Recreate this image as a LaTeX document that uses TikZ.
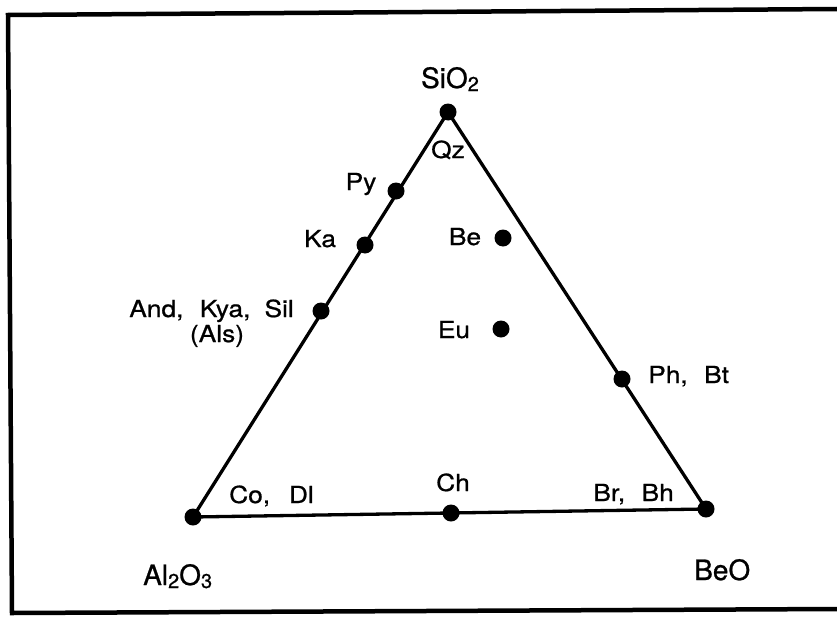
\documentclass[tikz,border=0pt]{standalone}
\usepackage{fontspec}
\setmainfont[FakeBold=0.8]{TeX Gyre Heros}
\newfontfamily\labfont[FakeStretch=1.12,FakeBold=0.8]{TeX Gyre Heros}
\newcommand{\lowsub}[1]{\raisebox{-3pt}{\fontsize{20}{20}\selectfont #1}}
\begin{document}
\begin{tikzpicture}[x=1pt,y=-1pt,
  dot/.style={circle,fill=black,inner sep=0pt,minimum size=17pt},
  big/.style={font=\fontsize{28}{28}\selectfont, inner sep=0pt},
  lab/.style={font=\labfont\fontsize{23.5}{23.5}\selectfont, inner sep=0pt},
  edgeline/.style={line width=3.3pt},
  frameline/.style={line width=4.5pt}]
\useasboundingbox (0,0) rectangle (837,618);
\fill[white] (0,0) rectangle (837,618);
% frame
\draw[frameline] (837,9) -- (8,15) -- (12,613) -- (837,609);
% vertices and points
\coordinate (S) at (448,112);
\coordinate (A) at (193,517);
\coordinate (B) at (706,509);
\coordinate (Py) at (396,191);
\coordinate (Ka) at (365,245);
\coordinate (Als) at (321,311);
\coordinate (Be) at (503,238);
\coordinate (Eu) at (501,329);
\coordinate (Ph) at (622,379);
\coordinate (Ch) at (451,513);
% triangle
\draw[edgeline] (S) -- (A) -- (B) -- cycle;
% dots
\node[dot] (dS) at (S) {};
\node[dot] (dA) at (A) {};
\node[dot] (dB) at (B) {};
\node[dot] (dPy) at (Py) {};
\node[dot] (dKa) at (Ka) {};
\node[dot] (dAls) at (Als) {};
\node[dot] (dBe) at (Be) {};
\node[dot] (dEu) at (Eu) {};
\node[dot] (dPh) at (Ph) {};
\node[dot] (dCh) at (Ch) {};
% end-member labels
\node[big, anchor=base] (tS) at (450,88) {SiO\lowsub{2}};
\node[big, anchor=base west] (tA) at (143,585) {Al\lowsub{2}O\lowsub{3}};
\node[big, anchor=base west] (tB) at (694,580) {BeO};
% mineral labels
\node[lab, anchor=base] (tQz) at (448,158) {Qz};
\node[lab, anchor=base] (tPy) at (361,190) {Py};
\node[lab, anchor=base] (tKa) at (320,247) {Ka};
\node[lab, anchor=base east] (tAnd) at (294,317) {And,\hspace{0.7em}Kya,\hspace{0.6em}Sil};
\node[lab, anchor=base] (tAls) at (217,342) {(Als)};
\node[lab, anchor=base] (tBe) at (465,245) {Be};
\node[lab, anchor=base] (tEu) at (454,338) {Eu};
\node[lab, anchor=base west] (tPh) at (648,383) {Ph,\hspace{0.7em}Bt};
\node[lab, anchor=base west] (tCo) at (229,503) {Co,\hspace{0.8em}Dl};
\node[lab, anchor=base] (tCh) at (453,491) {Ch};
\node[lab, anchor=base east] (tBr) at (674,501) {Br,\hspace{0.7em}Bh};
\end{tikzpicture}
\end{document}
